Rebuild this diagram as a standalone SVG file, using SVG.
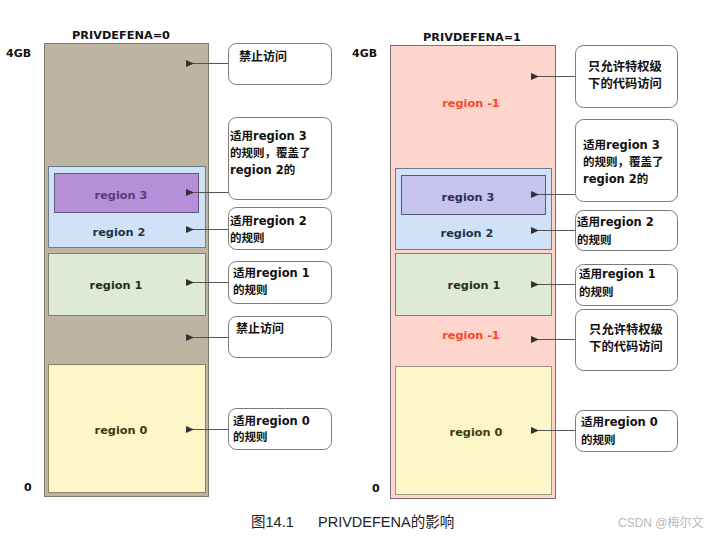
<svg xmlns="http://www.w3.org/2000/svg" width="715" height="538" viewBox="0 0 715 538">
<defs>
<marker id="ah" markerWidth="8" markerHeight="7" refX="1" refY="3.5" orient="auto" markerUnits="userSpaceOnUse">
<path d="M8,0 L0,3.5 L8,7 Z" fill="#333"/>
</marker>
<style>
text{font-family:"DejaVu Sans","Noto Sans CJK SC",sans-serif;font-weight:bold;font-size:11px;fill:#111}
.rl{text-anchor:middle;dominant-baseline:central;font-size:11.3px}
.cl{font-size:11.5px;dominant-baseline:central}
.cc{font-size:12.3px;dominant-baseline:central;text-anchor:middle}
.cj{font-size:12px;dominant-baseline:central}
.call{fill:#fff;stroke:#7a7a7a;stroke-width:1}
.conn line{stroke:#555;stroke-width:1}
.red{fill:#ff4422}
</style>
</defs>
<rect width="715" height="538" fill="#fff"/>

<!-- axis labels -->
<text x="121" y="35" class="rl">PRIVDEFENA=0</text>
<text x="472" y="37" class="rl">PRIVDEFENA=1</text>
<text x="6" y="53" dominant-baseline="central">4GB</text>
<text x="352" y="53" dominant-baseline="central">4GB</text>
<text x="24" y="487" dominant-baseline="central">0</text>
<text x="372" y="488" dominant-baseline="central">0</text>

<!-- Left column -->
<g id="left-mem">
<rect x="44.5" y="43.5" width="164" height="453" fill="#bdb5a2" stroke="#7d7868" stroke-width="1"/>
</g>
<g id="left-region2">
<rect x="48.5" y="166.5" width="157" height="81" fill="#cfe2f8" stroke="#6d7d90" stroke-width="1"/>
<text x="119" y="232" class="rl" style="fill:#1f3348">region 2</text>
</g>
<g id="left-region3">
<rect x="54.5" y="173.5" width="144" height="39" fill="#b78ed8" stroke="#5e5a78" stroke-width="1"/>
<text x="121" y="195" class="rl" style="fill:#5e3b7c">region 3</text>
</g>
<g id="left-region1">
<rect x="48.5" y="253.5" width="157" height="62" fill="#dee9d6" stroke="#7b8072" stroke-width="1"/>
<text x="116" y="285" class="rl" style="fill:#24301c">region 1</text>
</g>
<g id="left-region0">
<rect x="48.5" y="364.5" width="157" height="128" fill="#fdf6c9" stroke="#8a8465" stroke-width="1"/>
<text x="121" y="430" class="rl" style="fill:#3e3a12">region 0</text>
</g>

<!-- Right column -->
<g id="right-mem">
<rect x="390.5" y="45.5" width="165" height="453" fill="#fdd5cd" stroke="#7a7070" stroke-width="1"/>
<text x="471" y="103" class="rl red">region -1</text>
<text x="471" y="335" class="rl red">region -1</text>
</g>
<g id="right-region2">
<rect x="395.5" y="168.5" width="156" height="81" fill="#cfe2f8" stroke="#6d7d90" stroke-width="1"/>
<text x="467" y="233" class="rl" style="fill:#1f3348">region 2</text>
</g>
<g id="right-region3">
<rect x="401.5" y="175.5" width="144" height="39" fill="#c7c3ef" stroke="#5a5878" stroke-width="1"/>
<text x="468" y="197" class="rl" style="fill:#2e2e52">region 3</text>
</g>
<g id="right-region1">
<rect x="395.5" y="253.5" width="156" height="62" fill="#dee9d6" stroke="#7b8072" stroke-width="1"/>
<text x="474" y="285" class="rl" style="fill:#24301c">region 1</text>
</g>
<g id="right-region0">
<rect x="395.5" y="366.5" width="156" height="128" fill="#fdf6c9" stroke="#a0977a" stroke-width="1"/>
<text x="476" y="432" class="rl" style="fill:#3e3a12">region 0</text>
</g>

<!-- Connectors -->
<g id="connectors" class="conn">
<line x1="229" y1="63.5" x2="193" y2="63.5" marker-end="url(#ah)"/>
<line x1="229" y1="192.5" x2="193" y2="192.5" marker-end="url(#ah)"/>
<line x1="229" y1="229.5" x2="193" y2="229.5" marker-end="url(#ah)"/>
<line x1="229" y1="282.5" x2="193" y2="282.5" marker-end="url(#ah)"/>
<line x1="229" y1="337.5" x2="193" y2="337.5" marker-end="url(#ah)"/>
<line x1="229" y1="429.5" x2="193" y2="429.5" marker-end="url(#ah)"/>
<line x1="575" y1="76.5" x2="538" y2="76.5" marker-end="url(#ah)"/>
<line x1="575" y1="194.5" x2="538" y2="194.5" marker-end="url(#ah)"/>
<line x1="575" y1="230.5" x2="538" y2="230.5" marker-end="url(#ah)"/>
<line x1="575" y1="284.5" x2="538" y2="284.5" marker-end="url(#ah)"/>
<line x1="575" y1="339.5" x2="538" y2="339.5" marker-end="url(#ah)"/>
<line x1="575" y1="430.5" x2="538" y2="430.5" marker-end="url(#ah)"/>
</g>

<!-- Left callouts -->
<g id="lc1">
<rect x="228.5" y="43.5" width="103" height="41" rx="8" class="call"/>
<text x="239" y="57" class="cj">禁止访问</text>
</g>
<g id="lc2">
<rect x="228.5" y="117.5" width="103" height="82" rx="8" class="call"/>
<text x="230" y="136" class="cl">适用region 3</text>
<text x="230" y="153" class="cl">的规则，覆盖了</text>
<text x="230" y="170" class="cl">region 2的</text>
</g>
<g id="lc3">
<rect x="228.5" y="207.5" width="103" height="42" rx="8" class="call"/>
<text x="230" y="221" class="cl">适用region 2</text>
<text x="230" y="238" class="cl">的规则</text>
</g>
<g id="lc4">
<rect x="228.5" y="261.5" width="103" height="42" rx="8" class="call"/>
<text x="233" y="273" class="cl">适用region 1</text>
<text x="233" y="290" class="cl">的规则</text>
</g>
<g id="lc5">
<rect x="228.5" y="316.5" width="103" height="41" rx="8" class="call"/>
<text x="236" y="329" class="cj">禁止访问</text>
</g>
<g id="lc6">
<rect x="228.5" y="408.5" width="103" height="41" rx="8" class="call"/>
<text x="233" y="421" class="cl">适用region 0</text>
<text x="233" y="437" class="cl">的规则</text>
</g>

<!-- Right callouts -->
<g id="rc1">
<rect x="575.5" y="45.5" width="102" height="62" rx="8" class="call"/>
<text x="625" y="67" class="cc">只允许特权级</text>
<text x="625" y="84" class="cc">下的代码访问</text>
</g>
<g id="rc2">
<rect x="575.5" y="119.5" width="102" height="82" rx="8" class="call"/>
<text x="583" y="145" class="cl">适用region 3</text>
<text x="583" y="162" class="cl">的规则，覆盖了</text>
<text x="583" y="179" class="cl">region 2的</text>
</g>
<g id="rc3">
<rect x="575.5" y="210.5" width="102" height="40" rx="8" class="call"/>
<text x="577" y="222" class="cl">适用region 2</text>
<text x="577" y="240" class="cl">的规则</text>
</g>
<g id="rc4">
<rect x="575.5" y="264.5" width="102" height="41" rx="8" class="call"/>
<text x="579" y="274" class="cl">适用region 1</text>
<text x="579" y="292" class="cl">的规则</text>
</g>
<g id="rc5">
<rect x="575.5" y="309.5" width="102" height="61" rx="8" class="call"/>
<text x="626" y="330" class="cc">只允许特权级</text>
<text x="626" y="347" class="cc">下的代码访问</text>
</g>
<g id="rc6">
<rect x="575.5" y="410.5" width="102" height="41" rx="8" class="call"/>
<text x="581" y="422" class="cl">适用region 0</text>
<text x="581" y="440" class="cl">的规则</text>
</g>

<!-- Caption -->
<text y="522" style="font-family:'Liberation Sans','Noto Sans CJK SC',sans-serif;font-weight:normal;font-size:14.5px;fill:#222" dominant-baseline="central"><tspan x="251">图14.1</tspan><tspan x="318">PRIVDEFENA的影响</tspan></text>
<text x="618" y="523" style="font-family:'Liberation Sans','Noto Sans CJK SC',sans-serif;font-weight:normal;font-size:12px;fill:#b8b8b8" dominant-baseline="central">CSDN @梅尔文</text>
</svg>
